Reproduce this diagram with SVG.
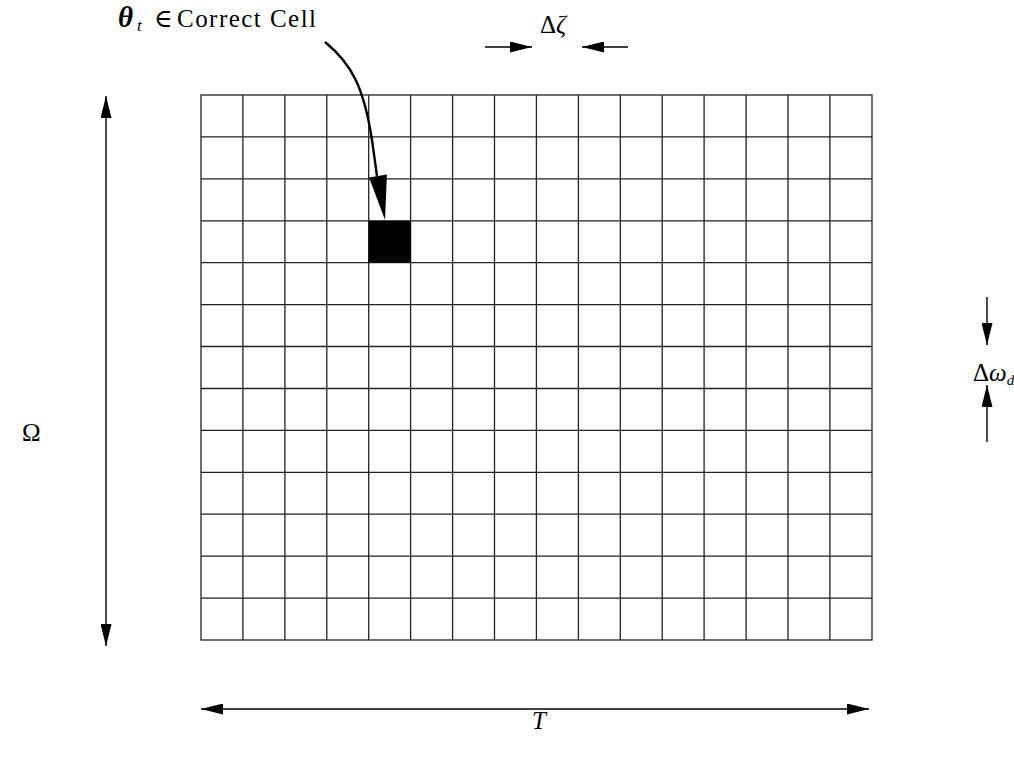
<svg xmlns="http://www.w3.org/2000/svg" width="1014" height="757" viewBox="0 0 1014 757">
<style>
.g{stroke:#222;stroke-width:1.3;fill:none}
.a{stroke:#000;stroke-width:1.4;fill:none}
.t{font-family:"Liberation Serif","DejaVu Serif",serif;font-size:25px;fill:#000}
.i{font-style:italic}
</style>
<defs>
<marker id="ah" viewBox="0 0 22 11" refX="22" refY="5.5" markerWidth="22" markerHeight="11" markerUnits="userSpaceOnUse" orient="auto-start-reverse">
<path d="M0,0 L22,5.5 L0,11 Z" fill="#000"/>
</marker>
</defs>
<rect width="1014" height="757" fill="#fff"/>
<g id="grid">
<rect x="201" y="95" width="671" height="545" class="g"/>
<path class="g" d="M242.9,95V640M284.9,95V640M326.8,95V640M368.7,95V640M410.6,95V640M452.6,95V640M494.5,95V640M536.4,95V640M578.4,95V640M620.3,95V640M662.2,95V640M704.1,95V640M746.1,95V640M788,95V640M829.9,95V640"/>
<path class="g" d="M201,136.9H872M201,178.8H872M201,220.8H872M201,262.7H872M201,304.6H872M201,346.5H872M201,388.5H872M201,430.4H872M201,472.3H872M201,514.2H872M201,556.2H872M201,598.1H872"/>
</g>
<g id="correct-cell">
<rect x="368.7" y="220.8" width="41.9" height="41.9" fill="#000"/>
</g>
<g id="label-theta">
<text class="t" x="118" y="27"><tspan font-weight="bold" font-style="italic" font-size="29">θ</tspan><tspan class="i" font-size="17" x="137" dy="4">t</tspan><tspan x="154" dy="-4">∈</tspan><tspan x="177" textLength="139" lengthAdjust="spacing">Correct Cell</tspan></text>
</g>
<g id="label-dzeta"><text class="t" x="540" y="33"><tspan>Δ</tspan><tspan class="i">ζ</tspan></text></g>
<g id="label-domega"><text class="t" x="973" y="381" font-size="23"><tspan>Δ</tspan><tspan class="i">ω</tspan><tspan class="i" font-size="15" dy="4">d</tspan></text></g>
<g id="label-omega"><text class="t" x="22" y="441">Ω</text></g>
<g id="label-T"><text class="t i" x="532" y="729">T</text></g>
<g id="connectors">
<path class="a" d="M106,96V646" marker-start="url(#ah)" marker-end="url(#ah)"/>
<path class="a" d="M201,709H869" marker-start="url(#ah)" marker-end="url(#ah)"/>
<path class="a" d="M485,47H532" marker-end="url(#ah)"/>
<path class="a" d="M628,47H582" marker-end="url(#ah)"/>
<path class="a" d="M987,297V345" marker-end="url(#ah)"/>
<path class="a" d="M987,442V385" marker-end="url(#ah)"/>
<path d="M325,42 C352,64 364,88 372,140 L377,176" stroke="#000" stroke-width="2.4" fill="none"/>
<path d="M385,220 L386.9,174.6 L369.1,177.4 Z" fill="#000"/>
</g>
</svg>
